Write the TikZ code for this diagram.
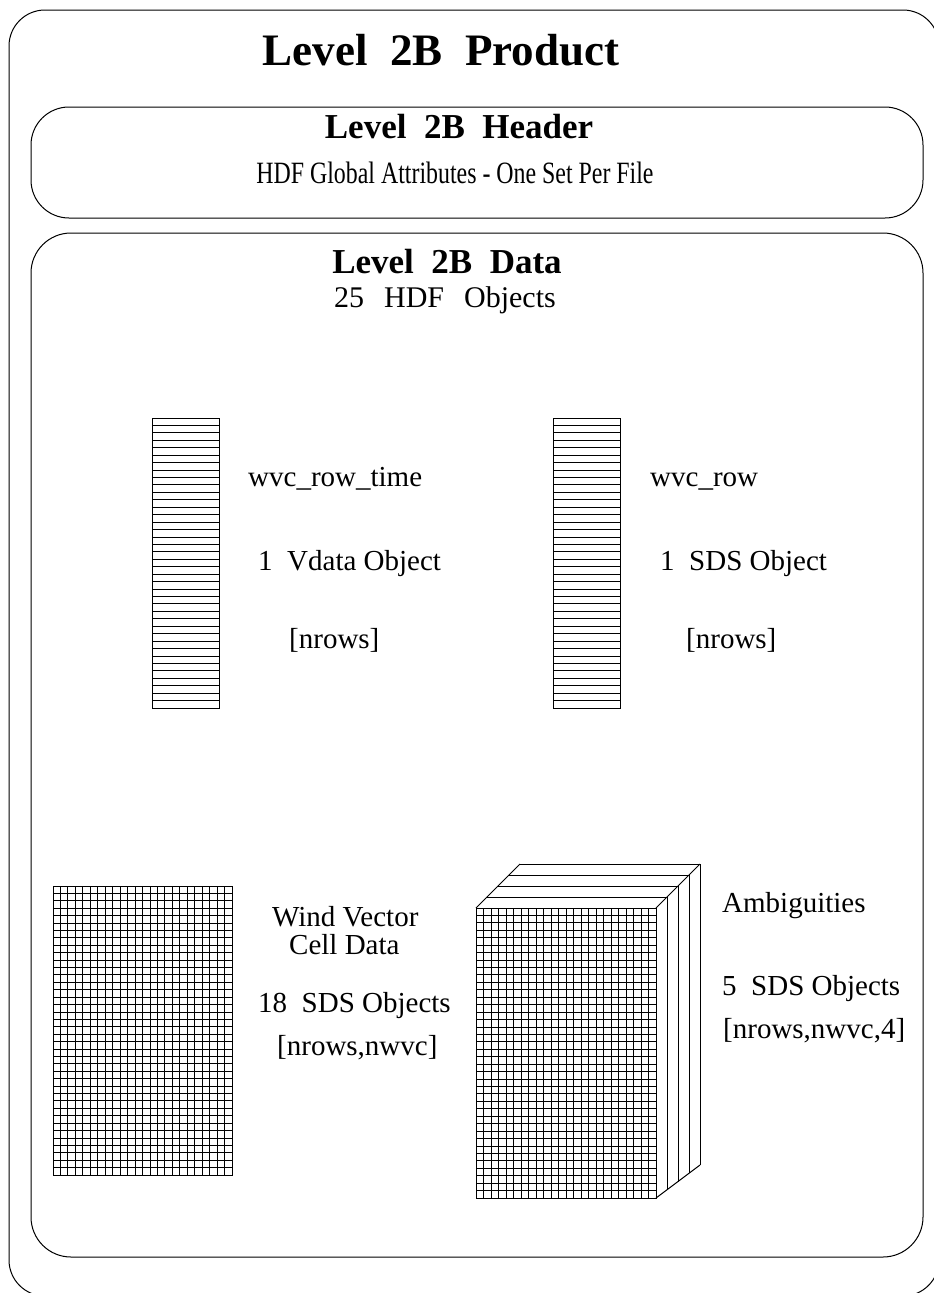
\documentclass[tikz,border=0pt]{standalone}
\usepackage{fontspec}
\setmainfont{Liberation Serif}
\newfontfamily\narrowfont[FakeStretch=0.77]{Liberation Serif}
\tikzset{
  box/.style={draw, line width=1pt},
  gridln/.style={line width=0.9pt},
  lbl/.style={inner sep=0pt, anchor=base west, font=\fontsize{29}{34}\selectfont},
  ttl/.style={inner sep=0pt, anchor=base, font=\bfseries\fontsize{35}{40}\selectfont},
}
\begin{document}
\begin{tikzpicture}[x=1pt,y=-1pt]
\useasboundingbox (0,0) rectangle (934,1293);
\begin{scope}
\clip (0,0) rectangle (934,1293);
% outer box
\draw[box, rounded corners=36pt] (9,10) rectangle (939,1296);
% header box
\draw[box, rounded corners=38pt] (31,107) rectangle (923,218);
% data box
\draw[box, rounded corners=40pt] (31,233) rectangle (923,1257);
\end{scope}

\node[inner sep=0pt, anchor=base, font=\bfseries\fontsize{45}{50}\selectfont] (title) at (441,65) {Level\ \ 2B\ \ Product};
\node[ttl] (htitle) at (459,138) {Level\ \ 2B\ \ Header};
\node[inner sep=0pt, anchor=base, font=\narrowfont\fontsize{31}{36}\selectfont] (hdf) at (455,183) {HDF Global Attributes - One Set Per File};
\node[ttl] (dtitle) at (447,273) {Level\ \ 2B\ \ Data};
\node[inner sep=0pt, anchor=base, font=\fontsize{30}{34}\selectfont] (hdfobj) at (445,307) {25\ \ \,HDF\ \ \,Objects};

% striped columns
\foreach \xl/\nm in {152/colA, 553/colB}{
  \draw[box] (\xl,418) rectangle ++(67,290);
  \foreach \j in {1,...,38}{
    \draw[gridln] (\xl,418+\j*290/39) -- ++(67,0);
  }
}

% left grid
\draw[box] (53,886) rectangle (232,1175);
\foreach \i in {1,...,23}{\draw[gridln] (53+\i*179/24,886) -- (53+\i*179/24,1175);}
\foreach \j in {1,...,38}{\draw[gridln] (53,886+\j*289/39) -- (232,886+\j*289/39);}

% 3D stack
\foreach \k in {1,2,3,4}{
  \draw[box] (476+\k*11,908-\k*11) -- (656+\k*11,908-\k*11);
  \draw[box] (656+\k*11,908-\k*11) -- (656+\k*11,1198-\k*8.25);
}
\draw[box] (476,908) -- (520,864);
\draw[box] (656,908) -- (700,864);
\draw[box] (656,1198) -- (700,1165);
\draw[box] (476,908) rectangle (656,1198);
\foreach \i in {1,...,23}{\draw[gridln] (476+\i*180/24,908) -- (476+\i*180/24,1198);}
\foreach \j in {1,...,38}{\draw[gridln] (476,908+\j*290/39) -- (656,908+\j*290/39);}

% labels
\node[lbl] (a1) at (248,486) {wvc\_row\_time};
\node[lbl] (a2) at (258,570) {1\ \ Vdata Object};
\node[lbl] (a3) at (289,648) {[nrows]};
\node[lbl] (b1) at (650,486) {wvc\_row};
\node[lbl] (b2) at (660,570) {1\ \ SDS Object};
\node[lbl] (b3) at (686,648) {[nrows]};
\node[lbl] (c1) at (272,926) {Wind Vector};
\node[lbl] (c2) at (289,954) {Cell Data};
\node[lbl] (c3) at (258,1012) {18\ \ SDS Objects};
\node[lbl] (c4) at (277,1055) {[nrows,nwvc]};
\node[lbl] (d1) at (722,912) {Ambiguities};
\node[lbl] (d2) at (722,995) {5\ \ SDS Objects};
\node[lbl] (d3) at (723,1038) {[nrows,nwvc,4]};
\end{tikzpicture}
\end{document}
